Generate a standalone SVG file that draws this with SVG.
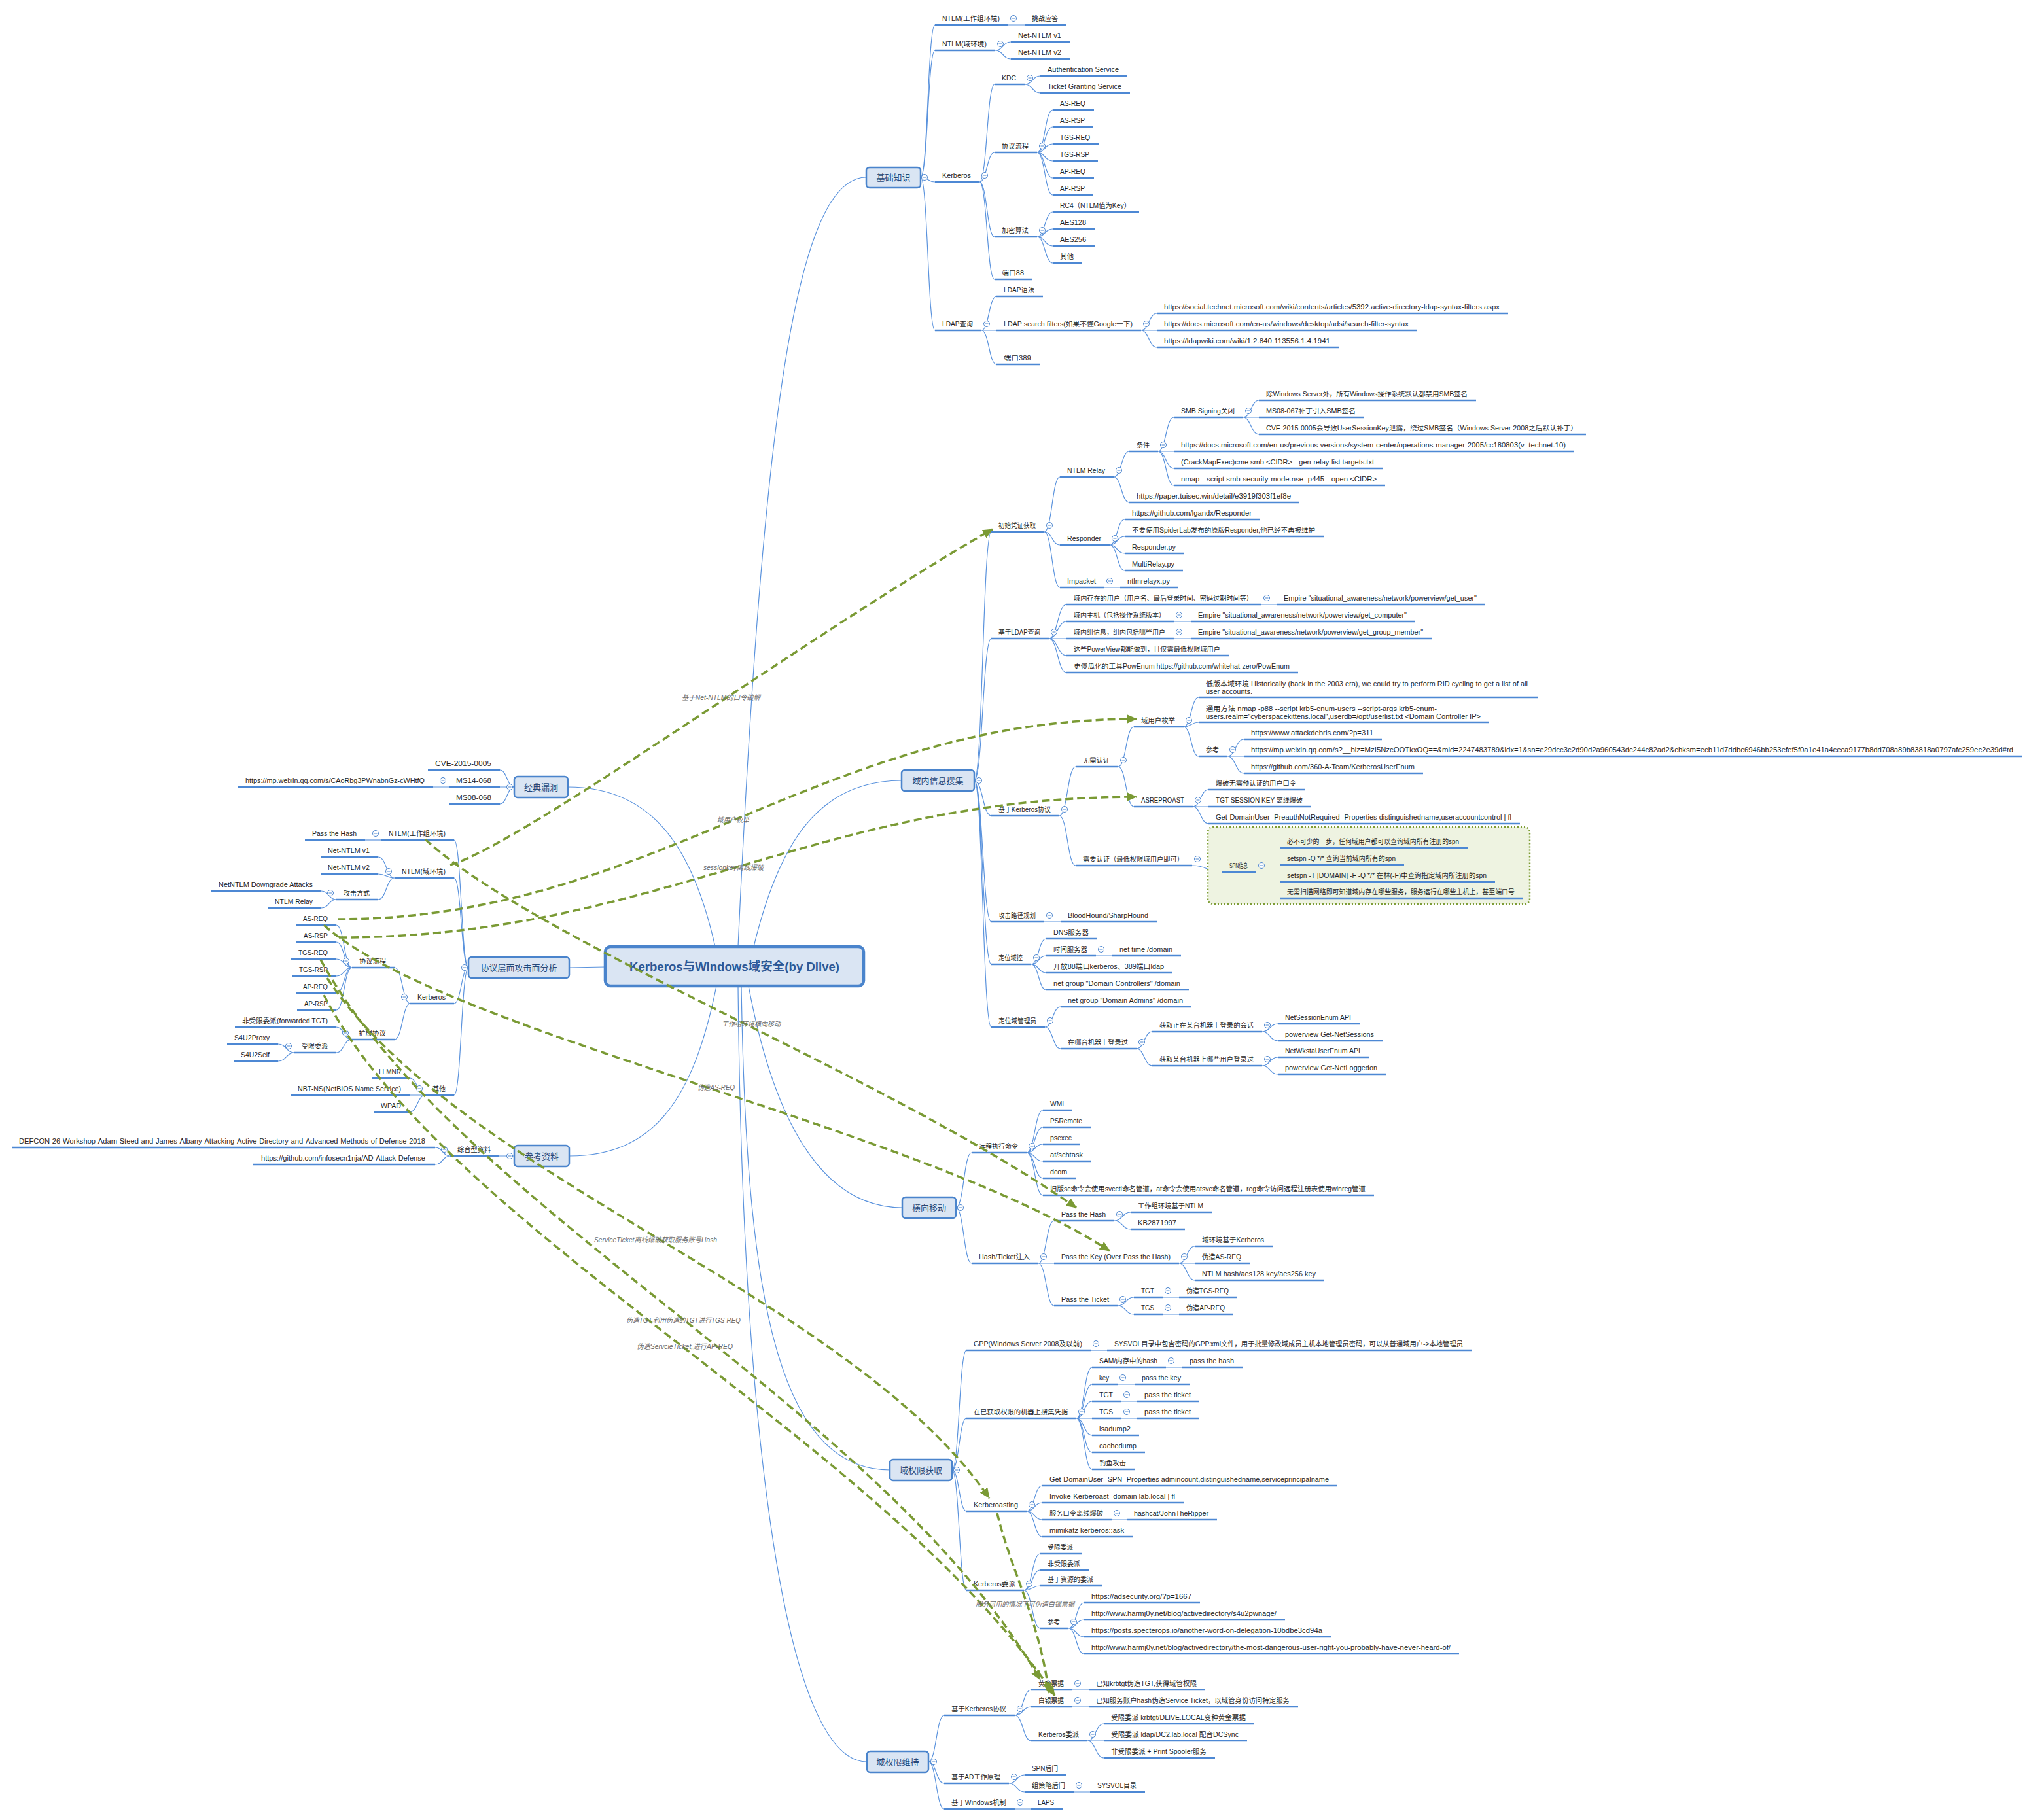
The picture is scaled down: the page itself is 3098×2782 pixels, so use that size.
<svg xmlns="http://www.w3.org/2000/svg" width="3098" height="2782" viewBox="0 0 3098 2782">
<style>
text{font-family:'Liberation Sans','Noto Sans CJK SC',sans-serif;font-size:10.5px;fill:#1f1f1f}
.u{stroke:#4d88d4;stroke-width:2.6;fill:none}
.c{stroke:#5b93dd;stroke-width:1.2;fill:none}
.box{fill:#dae5f3;stroke:#4a84cc;stroke-width:2.5}
.mt{font-size:13px;fill:#264878;text-anchor:middle}
.ti{font-size:19px;font-weight:bold;fill:#2d5896;text-anchor:middle}
.r{stroke:#7a9a34;stroke-width:3.5;fill:none;stroke-dasharray:12 6;marker-end:url(#ar)}
.rl{font-style:italic;fill:#6b6b6b;font-size:10.5px}
</style>
<defs>
<g id="m"><circle r="4.5" fill="#fff" stroke="#4d86cf" stroke-width="1"/><path d="M-2.5 0H2.5" stroke="#4d86cf" stroke-width="1"/></g>
<marker id="ar" markerUnits="userSpaceOnUse" markerWidth="16" markerHeight="14" refX="15" refY="7" orient="auto"><path d="M0 0L16 7L0 14z" fill="#7a9a34"/></marker>
</defs>
<rect width="3098" height="2782" fill="#fff"/>

<g id="connectors" class="c">
<path d="M1093 1447C1060 1300 1000 1203 868 1203"/>
<path d="M1128 1447C1165 650 1215 271 1324 271"/>
<path d="M1152 1447C1190 1290 1250 1193 1378 1193"/>
<path d="M925 1478L870 1479"/>
<path d="M1095 1507C1060 1680 1000 1767 870 1767"/>
<path d="M1144 1507C1180 1700 1250 1846 1379 1846"/>
<path d="M1133 1507C1140 1950 1180 2247 1360 2247"/>
<path d="M1128 1507C1135 2200 1200 2693 1325 2693"/>

<path d="M1407 271c11 0 11 -233 22 -233M1407 271c11 0 11 -194 22 -194M1407 271c11 0 11 7 22 7M1407 271c11 0 11 234 22 234"/>
<path d="M1541 38H1566M1521 77c12 0 12 -13 24 -13M1521 77c12 0 12 13 24 13"/>
<path d="M1497 278c11.5 0 11.5 -149 23 -149M1497 278c11.5 0 11.5 -45 23 -45M1497 278c11.5 0 11.5 84 23 84M1497 278c11.5 0 11.5 149 23 149"/>
<path d="M1566 129c12 0 12 -13 24 -13M1566 129c12 0 12 13 24 13"/>
<path d="M1585 233c12 0 12 -65 24 -65M1585 233c12 0 12 -39 24 -39M1585 233c12 0 12 -13 24 -13M1585 233c12 0 12 13 24 13M1585 233c12 0 12 39 24 39M1585 233c12 0 12 65 24 65"/>
<path d="M1585 362c12 0 12 -38 24 -38M1585 362c12 0 12 -12 24 -12M1585 362c12 0 12 14 24 14M1585 362c12 0 12 40 24 40"/>
<path d="M1500 505c11.5 0 11.5 -52 23 -52M1500 505H1523M1500 505c11.5 0 11.5 52 23 52"/>
<path d="M1744 505c12 0 12 -26 24 -26M1744 505H1768M1744 505c12 0 12 26 24 26"/>

<path d="M1489 1193c13 0 13 -380 26 -380M1489 1193c13 0 13 -217 26 -217M1489 1193c13 0 13 54 26 54M1489 1193c13 0 13 216 26 216M1489 1193c13 0 13 281 26 281M1489 1193c13 0 13 377 26 377"/>
<path d="M1596 813c12 0 12 -84 24 -84M1596 813c12 0 12 20 24 20M1596 813c12 0 12 85 24 85"/>
<path d="M1702 729c12 0 12 -39 24 -39M1702 729c12 0 12 39 24 39"/>
<path d="M1770 690c12 0 12 -52 24 -52M1770 690H1794M1770 690c12 0 12 26 24 26M1770 690c12 0 12 52 24 52"/>
<path d="M1900 638c12 0 12 -26 24 -26M1900 638H1924M1900 638c12 0 12 26 24 26"/>
<path d="M1696 833c11.5 0 11.5 -39 23 -39M1696 833c11.5 0 11.5 -13 23 -13M1696 833c11.5 0 11.5 13 23 13M1696 833c11.5 0 11.5 39 23 39M1688 898H1712"/>
<path d="M1603 976c13.5 0 13.5 -52 27 -52M1603 976c13.5 0 13.5 -26 27 -26M1603 976H1630M1603 976c13.5 0 13.5 26 27 26M1603 976c13.5 0 13.5 52 27 52"/>
<path d="M1928 924H1951M1794 950H1820M1794 976H1820"/>
<path d="M1619 1247c12.5 0 12.5 -75 25 -75M1619 1247c12.5 0 12.5 76 25 76"/>
<path d="M1709 1172c12 0 12 -61 24 -61M1709 1172c12 0 12 61 24 61"/>
<path d="M1809 1111c11.5 0 11.5 -45 23 -45M1809 1111c11.5 0 11.5 -7 23 -7M1809 1111c11.5 0 11.5 45 23 45"/>
<path d="M1876 1156c12.5 0 12.5 -26 25 -26M1876 1156H1901M1876 1156c12.5 0 12.5 26 25 26"/>
<path d="M1823 1233c12 0 12 -26 24 -26M1823 1233H1847M1823 1233c12 0 12 26 24 26"/>
<path d="M1822 1323c23 0 23 10 46 10"/>
<path d="M1920 1333c18 0 18 -37 36 -37M1920 1333c18 0 18 -11 36 -11M1920 1333c18 0 18 15 36 15M1920 1333c18 0 18 40 36 40"/>
<path d="M1596 1409H1621M1675 1461H1700"/>
<path d="M1576 1474c11.5 0 11.5 -39 23 -39M1576 1474c11.5 0 11.5 -13 23 -13M1576 1474c11.5 0 11.5 13 23 13M1576 1474c11.5 0 11.5 39 23 39"/>
<path d="M1597 1570c12 0 12 -31 24 -31M1597 1570c12 0 12 33 24 33"/>
<path d="M1737 1603c12 0 12 -26 24 -26M1737 1603c12 0 12 26 24 26"/>
<path d="M1929 1577c12 0 12 -12 24 -12M1929 1577c12 0 12 14 24 14M1929 1629c12 0 12 -13 24 -13M1929 1629c12 0 12 13 24 13"/>

<path d="M1461 1846c12 0 12 -84 24 -84M1461 1846c12 0 12 85 24 85"/>
<path d="M1569 1762c12.5 0 12.5 -65 25 -65M1569 1762c12.5 0 12.5 -39 25 -39M1569 1762c12.5 0 12.5 -13 25 -13M1569 1762c12.5 0 12.5 13 25 13M1569 1762c12.5 0 12.5 39 25 39M1569 1762c12.5 0 12.5 65 25 65"/>
<path d="M1587 1931c12 0 12 -65 24 -65M1587 1931H1611M1587 1931c12 0 12 65 24 65"/>
<path d="M1703 1866c12.5 0 12.5 -13 25 -13M1703 1866c12.5 0 12.5 13 25 13"/>
<path d="M1802 1931c12 0 12 -26 24 -26M1802 1931H1826M1802 1931c12 0 12 26 24 26"/>
<path d="M1708 1996c12.5 0 12.5 -13 25 -13M1708 1996c12.5 0 12.5 13 25 13M1777 1983H1802M1777 2009H1802"/>

<path d="M1455 2247c11 0 11 -183 22 -183M1455 2247c11 0 11 -79 22 -79M1455 2247c11 0 11 63 22 63M1455 2247c11 0 11 184 22 184"/>
<path d="M1667 2064H1692"/>
<path d="M1645 2168c12 0 12 -78 24 -78M1645 2168c12 0 12 -52 24 -52M1645 2168c12 0 12 -26 24 -26M1645 2168H1669M1645 2168c12 0 12 26 24 26M1645 2168c12 0 12 52 24 52M1645 2168c12 0 12 78 24 78"/>
<path d="M1782 2090H1807M1708 2116H1734M1714 2142H1738M1714 2168H1738"/>
<path d="M1569 2310c12 0 12 -39 24 -39M1569 2310c12 0 12 -13 24 -13M1569 2310c12 0 12 13 24 13M1569 2310c12 0 12 39 24 39M1699 2323H1722"/>
<path d="M1565 2431c12.5 0 12.5 -56 25 -56M1565 2431c12.5 0 12.5 -31 25 -31M1565 2431c12.5 0 12.5 -7 25 -7M1565 2431c12.5 0 12.5 58 25 58"/>
<path d="M1633 2489c12 0 12 -39 24 -39M1633 2489c12 0 12 -13 24 -13M1633 2489c12 0 12 13 24 13M1633 2489c12 0 12 39 24 39"/>

<path d="M1419 2693c12 0 12 -71 24 -71M1419 2693c12 0 12 33 24 33M1419 2693c12 0 12 72 24 72"/>
<path d="M1551 2622c12.5 0 12.5 -39 25 -39M1551 2622c12.5 0 12.5 -13 25 -13M1551 2622c12.5 0 12.5 39 25 39M1639 2583H1664M1639 2609H1664"/>
<path d="M1662 2661c12.5 0 12.5 -26 25 -26M1662 2661H1687M1662 2661c12.5 0 12.5 26 25 26"/>
<path d="M1542 2726c12 0 12 -13 24 -13M1542 2726c12 0 12 13 24 13M1641 2739H1666M1551 2765H1575"/>

<path d="M786 1203c-11 0 -11 -26 -22 -26M786 1203H764M786 1203c-11 0 -11 26 -22 26M686 1203H662"/>
<path d="M716 1479c-11 0 -11 -195 -22 -195M716 1479c-11 0 -11 -137 -22 -137M716 1479c-11 0 -11 55 -22 55M716 1479c-11 0 -11 195 -22 195"/>
<path d="M583 1284H558"/>
<path d="M603 1342c-12.5 0 -12.5 -32 -25 -32M603 1342c-12.5 0 -12.5 -6 -25 -6M603 1342c-12.5 0 -12.5 33 -25 33"/>
<path d="M514 1375c-11.5 0 -11.5 -13 -23 -13M514 1375c-11.5 0 -11.5 13 -23 13"/>
<path d="M627 1534c-12 0 -12 -55 -24 -55M627 1534c-12 0 -12 55 -24 55"/>
<path d="M538 1479c-12 0 -12 -65 -24 -65M538 1479c-12 0 -12 -39 -24 -39M538 1479c-12 0 -12 -13 -24 -13M538 1479c-12 0 -12 13 -24 13M538 1479c-12 0 -12 39 -24 39M538 1479c-12 0 -12 65 -24 65"/>
<path d="M537 1589c-11.5 0 -11.5 -19 -23 -19M537 1589c-11.5 0 -11.5 20 -23 20"/>
<path d="M450 1609c-12.5 0 -12.5 -13 -25 -13M450 1609c-12.5 0 -12.5 13 -25 13"/>
<path d="M650 1674c-12 0 -12 -26 -24 -26M650 1674H626M650 1674c-12 0 -12 26 -24 26"/>
<path d="M786 1767H763M688 1767c-11.5 0 -11.5 -13 -23 -13M688 1767c-11.5 0 -11.5 13 -23 13"/>
</g>

<rect x="1846" y="1264" width="492" height="118" rx="8" fill="#eef3e1" stroke="#7d9c34" stroke-width="2.5" stroke-dasharray="2 3"/>

<g id="center"><rect x="925" y="1447" width="395" height="60" rx="8" fill="#dae5f3" stroke="#4a84cc" stroke-width="4.5"/><text class="ti" x="1122.5" y="1484" textLength="321" lengthAdjust="spacingAndGlyphs">Kerberos与Windows域安全(by Dlive)</text></g>

<g id="t-jc"><rect class="box" x="1324" y="256" width="83" height="31" rx="5"/><text class="mt" x="1365.5" y="276">基础知识</text><use href="#m" x="1413" y="271"/></g>
<g id="t-yn"><rect class="box" x="1378" y="1177" width="111" height="32" rx="5"/><text class="mt" x="1433.5" y="1198">域内信息搜集</text><use href="#m" x="1496" y="1193"/></g>
<g id="t-hx"><rect class="box" x="1379" y="1830" width="82" height="32" rx="5"/><text class="mt" x="1420" y="1851">横向移动</text><use href="#m" x="1468" y="1846"/></g>
<g id="t-hq"><rect class="box" x="1360" y="2231" width="95" height="32" rx="5"/><text class="mt" x="1407.5" y="2252">域权限获取</text><use href="#m" x="1462" y="2247"/></g>
<g id="t-wc"><rect class="box" x="1325" y="2677" width="94" height="32" rx="5"/><text class="mt" x="1372" y="2698">域权限维持</text><use href="#m" x="1427" y="2693"/></g>
<g id="t-ld"><rect class="box" x="786" y="1187" width="82" height="32" rx="5"/><text class="mt" x="827" y="1208">经典漏洞</text><use href="#m" x="779" y="1203"/></g>
<g id="t-xy"><rect class="box" x="716" y="1463" width="154" height="32" rx="5"/><text class="mt" x="793" y="1484">协议层面攻击面分析</text><use href="#m" x="710" y="1479"/></g>
<g id="t-ck"><rect class="box" x="786" y="1751" width="84" height="32" rx="5"/><text class="mt" x="828" y="1772">参考资料</text><use href="#m" x="779" y="1767"/></g>

<g id="b1"><path class="u" d="M1429 38H1541"/><text x="1440" y="32" textLength="88" lengthAdjust="spacingAndGlyphs">NTLM(工作组环境)</text><use href="#m" x="1549" y="28"/></g>
<g id="b1a"><path class="u" d="M1566 38H1630"/><text x="1577" y="32" textLength="40" lengthAdjust="spacingAndGlyphs">挑战应答</text></g>
<g id="b2"><path class="u" d="M1429 77H1521"/><text x="1440" y="71" textLength="68" lengthAdjust="spacingAndGlyphs">NTLM(域环境)</text><use href="#m" x="1529" y="67"/></g>
<g id="b2a"><path class="u" d="M1545 64H1635"/><text x="1556" y="58" textLength="66" lengthAdjust="spacingAndGlyphs">Net-NTLM v1</text></g>
<g id="b2b"><path class="u" d="M1545 90H1635"/><text x="1556" y="84" textLength="66" lengthAdjust="spacingAndGlyphs">Net-NTLM v2</text></g>
<g id="b3"><path class="u" d="M1429 278H1497"/><text x="1440" y="272" textLength="44" lengthAdjust="spacingAndGlyphs">Kerberos</text><use href="#m" x="1505" y="268"/></g>
<g id="b3a"><path class="u" d="M1520 129H1566"/><text x="1531" y="123" textLength="22" lengthAdjust="spacingAndGlyphs">KDC</text><use href="#m" x="1574" y="119"/></g>
<g id="b3a1"><path class="u" d="M1590 116H1723"/><text x="1601" y="110" textLength="109" lengthAdjust="spacingAndGlyphs">Authentication Service</text></g>
<g id="b3a2"><path class="u" d="M1590 142H1727"/><text x="1601" y="136" textLength="113" lengthAdjust="spacingAndGlyphs">Ticket Granting Service</text></g>
<g id="b3b"><path class="u" d="M1520 233H1585"/><text x="1531" y="227" textLength="41" lengthAdjust="spacingAndGlyphs">协议流程</text><use href="#m" x="1593" y="223"/></g>
<g id="b3b1"><path class="u" d="M1609 168H1672"/><text x="1620" y="162" textLength="39" lengthAdjust="spacingAndGlyphs">AS-REQ</text></g>
<g id="b3b2"><path class="u" d="M1609 194H1671"/><text x="1620" y="188" textLength="38" lengthAdjust="spacingAndGlyphs">AS-RSP</text></g>
<g id="b3b3"><path class="u" d="M1609 220H1679"/><text x="1620" y="214" textLength="46" lengthAdjust="spacingAndGlyphs">TGS-REQ</text></g>
<g id="b3b4"><path class="u" d="M1609 246H1678"/><text x="1620" y="240" textLength="45" lengthAdjust="spacingAndGlyphs">TGS-RSP</text></g>
<g id="b3b5"><path class="u" d="M1609 272H1672"/><text x="1620" y="266" textLength="39" lengthAdjust="spacingAndGlyphs">AP-REQ</text></g>
<g id="b3b6"><path class="u" d="M1609 298H1671"/><text x="1620" y="292" textLength="38" lengthAdjust="spacingAndGlyphs">AP-RSP</text></g>
<g id="b3c"><path class="u" d="M1520 362H1585"/><text x="1531" y="356" textLength="41" lengthAdjust="spacingAndGlyphs">加密算法</text><use href="#m" x="1593" y="352"/></g>
<g id="b3c1"><path class="u" d="M1609 324H1741"/><text x="1620" y="318" textLength="108" lengthAdjust="spacingAndGlyphs">RC4（NTLM值为Key）</text></g>
<g id="b3c2"><path class="u" d="M1609 350H1673"/><text x="1620" y="344" textLength="40" lengthAdjust="spacingAndGlyphs">AES128</text></g>
<g id="b3c3"><path class="u" d="M1609 376H1673"/><text x="1620" y="370" textLength="40" lengthAdjust="spacingAndGlyphs">AES256</text></g>
<g id="b3c4"><path class="u" d="M1609 402H1654"/><text x="1620" y="396" textLength="21" lengthAdjust="spacingAndGlyphs">其他</text></g>
<g id="b3d"><path class="u" d="M1520 427H1578"/><text x="1531" y="421" textLength="34" lengthAdjust="spacingAndGlyphs">端口88</text></g>
<g id="b4"><path class="u" d="M1429 505H1500"/><text x="1440" y="499" textLength="47" lengthAdjust="spacingAndGlyphs">LDAP查询</text><use href="#m" x="1508" y="495"/></g>
<g id="b4a"><path class="u" d="M1523 453H1594"/><text x="1534" y="447" textLength="47" lengthAdjust="spacingAndGlyphs">LDAP语法</text></g>
<g id="b4b"><path class="u" d="M1523 505H1744"/><text x="1534" y="499" textLength="197" lengthAdjust="spacingAndGlyphs">LDAP search filters(如果不懂Google一下)</text><use href="#m" x="1752" y="495"/></g>
<g id="b4b1"><path class="u" d="M1768 479H2305"/><text x="1779" y="473" textLength="513" lengthAdjust="spacingAndGlyphs">https://social.technet.microsoft.com/wiki/contents/articles/5392.active-directory-ldap-syntax-filters.aspx</text></g>
<g id="b4b2"><path class="u" d="M1768 505H2166"/><text x="1779" y="499" textLength="374" lengthAdjust="spacingAndGlyphs">https://docs.microsoft.com/en-us/windows/desktop/adsi/search-filter-syntax</text></g>
<g id="b4b3"><path class="u" d="M1768 531H2046"/><text x="1779" y="525" textLength="254" lengthAdjust="spacingAndGlyphs">https://ldapwiki.com/wiki/1.2.840.113556.1.4.1941</text></g>
<g id="b4c"><path class="u" d="M1523 557H1589"/><text x="1534" y="551" textLength="42" lengthAdjust="spacingAndGlyphs">端口389</text></g>

<g id="i1"><path class="u" d="M1515 813H1596"/><text x="1526" y="807" textLength="57" lengthAdjust="spacingAndGlyphs">初始凭证获取</text><use href="#m" x="1604" y="803"/></g>
<g id="i1a"><path class="u" d="M1620 729H1702"/><text x="1631" y="723" textLength="58" lengthAdjust="spacingAndGlyphs">NTLM Relay</text><use href="#m" x="1710" y="719"/></g>
<g id="i1a1"><path class="u" d="M1726 690H1770"/><text x="1737" y="684" textLength="20" lengthAdjust="spacingAndGlyphs">条件</text><use href="#m" x="1778" y="680"/></g>
<g id="i1a1a"><path class="u" d="M1794 638H1900"/><text x="1805" y="632" textLength="82" lengthAdjust="spacingAndGlyphs">SMB Signing关闭</text><use href="#m" x="1908" y="628"/></g>
<g id="i1a1a1"><path class="u" d="M1924 612H2256"/><text x="1935" y="606" textLength="308" lengthAdjust="spacingAndGlyphs">除Windows Server外，所有Windows操作系统默认都禁用SMB签名</text></g>
<g id="i1a1a2"><path class="u" d="M1924 638H2085"/><text x="1935" y="632" textLength="137" lengthAdjust="spacingAndGlyphs">MS08-067补丁引入SMB签名</text></g>
<g id="i1a1a3"><path class="u" d="M1924 664H2424"/><text x="1935" y="658" textLength="476" lengthAdjust="spacingAndGlyphs">CVE-2015-0005会导致UserSessionKey泄露，绕过SMB签名（Windows Server 2008之后默认补丁）</text></g>
<g id="i1a1b"><path class="u" d="M1794 690H2406"/><text x="1805" y="684" textLength="588" lengthAdjust="spacingAndGlyphs">https://docs.microsoft.com/en-us/previous-versions/system-center/operations-manager-2005/cc180803(v=technet.10)</text></g>
<g id="i1a1c"><path class="u" d="M1794 716H2113"/><text x="1805" y="710" textLength="295" lengthAdjust="spacingAndGlyphs">(CrackMapExec)cme smb &lt;CIDR&gt; --gen-relay-list targets.txt</text></g>
<g id="i1a1d"><path class="u" d="M1794 742H2117"/><text x="1805" y="736" textLength="299" lengthAdjust="spacingAndGlyphs">nmap --script smb-security-mode.nse -p445 --open &lt;CIDR&gt;</text></g>
<g id="i1a2"><path class="u" d="M1726 768H1986"/><text x="1737" y="762" textLength="236" lengthAdjust="spacingAndGlyphs">https://paper.tuisec.win/detail/e3919f303f1ef8e</text></g>
<g id="i1b"><path class="u" d="M1620 833H1696"/><text x="1631" y="827" textLength="52" lengthAdjust="spacingAndGlyphs">Responder</text><use href="#m" x="1704" y="823"/></g>
<g id="i1b1"><path class="u" d="M1719 794H1926"/><text x="1730" y="788" textLength="183" lengthAdjust="spacingAndGlyphs">https://github.com/lgandx/Responder</text></g>
<g id="i1b2"><path class="u" d="M1719 820H2023"/><text x="1730" y="814" textLength="280" lengthAdjust="spacingAndGlyphs">不要使用SpiderLab发布的原版Responder,他已经不再被维护</text></g>
<g id="i1b3"><path class="u" d="M1719 846H1810"/><text x="1730" y="840" textLength="67" lengthAdjust="spacingAndGlyphs">Responder.py</text></g>
<g id="i1b4"><path class="u" d="M1719 872H1808"/><text x="1730" y="866" textLength="65" lengthAdjust="spacingAndGlyphs">MultiRelay.py</text></g>
<g id="i1c"><path class="u" d="M1620 898H1688"/><text x="1631" y="892" textLength="44" lengthAdjust="spacingAndGlyphs">Impacket</text><use href="#m" x="1696" y="888"/></g>
<g id="i1c1"><path class="u" d="M1712 898H1801"/><text x="1723" y="892" textLength="65" lengthAdjust="spacingAndGlyphs">ntlmrelayx.py</text></g>

<g id="i2"><path class="u" d="M1515 976H1603"/><text x="1526" y="970" textLength="64" lengthAdjust="spacingAndGlyphs">基于LDAP查询</text><use href="#m" x="1611" y="966"/></g>
<g id="i2a"><path class="u" d="M1630 924H1928"/><text x="1641" y="918" textLength="274" lengthAdjust="spacingAndGlyphs">域内存在的用户（用户名、最后登录时间、密码过期时间等）</text><use href="#m" x="1936" y="914"/></g>
<g id="i2a1"><path class="u" d="M1951 924H2270"/><text x="1962" y="918" textLength="295" lengthAdjust="spacingAndGlyphs">Empire "situational_awareness/network/powerview/get_user"</text></g>
<g id="i2b"><path class="u" d="M1630 950H1794"/><text x="1641" y="944" textLength="140" lengthAdjust="spacingAndGlyphs">域内主机（包括操作系统版本）</text><use href="#m" x="1802" y="940"/></g>
<g id="i2b1"><path class="u" d="M1820 950H2163"/><text x="1831" y="944" textLength="319" lengthAdjust="spacingAndGlyphs">Empire "situational_awareness/network/powerview/get_computer"</text></g>
<g id="i2c"><path class="u" d="M1630 976H1794"/><text x="1641" y="970" textLength="140" lengthAdjust="spacingAndGlyphs">域内组信息，组内包括哪些用户</text><use href="#m" x="1802" y="966"/></g>
<g id="i2c1"><path class="u" d="M1820 976H2188"/><text x="1831" y="970" textLength="344" lengthAdjust="spacingAndGlyphs">Empire "situational_awareness/network/powerview/get_group_member"</text></g>
<g id="i2d"><path class="u" d="M1630 1002H1878"/><text x="1641" y="996" textLength="224" lengthAdjust="spacingAndGlyphs">这些PowerView都能做到，且仅需最低权限域用户</text></g>
<g id="i2e"><path class="u" d="M1630 1028H1984"/><text x="1641" y="1022" textLength="330" lengthAdjust="spacingAndGlyphs">更傻瓜化的工具PowEnum https://github.com/whitehat-zero/PowEnum</text></g>

<g id="i3"><path class="u" d="M1515 1247H1619"/><text x="1526" y="1241" textLength="80" lengthAdjust="spacingAndGlyphs">基于Kerberos协议</text><use href="#m" x="1627" y="1237"/></g>
<g id="i3a"><path class="u" d="M1644 1172H1709"/><text x="1655" y="1166" textLength="41" lengthAdjust="spacingAndGlyphs">无需认证</text><use href="#m" x="1717" y="1162"/></g>
<g id="i3a1"><path class="u" d="M1733 1111H1809"/><text x="1744" y="1105" textLength="52" lengthAdjust="spacingAndGlyphs">域用户枚举</text><use href="#m" x="1817" y="1101"/></g>
<g id="i3a1a"><path class="u" d="M1832 1066H2351"/><text x="1843" y="1049" textLength="492" lengthAdjust="spacingAndGlyphs">低版本域环境 Historically (back in the 2003 era), we could try to perform RID cycling to get a list of all</text><text x="1843" y="1061" textLength="71" lengthAdjust="spacingAndGlyphs">user accounts.</text></g>
<g id="i3a1b"><path class="u" d="M1832 1104H2276"/><text x="1843" y="1087" textLength="353" lengthAdjust="spacingAndGlyphs">通用方法 nmap -p88 --script krb5-enum-users --script-args krb5-enum-</text><text x="1843" y="1099" textLength="420" lengthAdjust="spacingAndGlyphs">users.realm="cyberspacekittens.local",userdb=/opt/userlist.txt &lt;Domain Controller IP&gt;</text></g>
<g id="i3a1c"><path class="u" d="M1832 1156H1876"/><text x="1843" y="1150" textLength="20" lengthAdjust="spacingAndGlyphs">参考</text><use href="#m" x="1884" y="1146"/></g>
<g id="i3a1c1"><path class="u" d="M1901 1130H2112"/><text x="1912" y="1124" textLength="187" lengthAdjust="spacingAndGlyphs">https://www.attackdebris.com/?p=311</text></g>
<g id="i3a1c2"><path class="u" d="M1901 1156H3090"/><text x="1912" y="1150" textLength="1165" lengthAdjust="spacingAndGlyphs">https://mp.weixin.qq.com/s?__biz=MzI5NzcOOTkxOQ==&amp;mid=2247483789&amp;idx=1&amp;sn=e29dcc3c2d90d2a960543dc244c82ad2&amp;chksm=ecb11d7ddbc6946bb253efef5f0a1e41a4ceca9177b8dd708a89b83818a0797afc259ec2e39d#rd</text></g>
<g id="i3a1c3"><path class="u" d="M1901 1182H2175"/><text x="1912" y="1176" textLength="250" lengthAdjust="spacingAndGlyphs">https://github.com/360-A-Team/KerberosUserEnum</text></g>
<g id="i3a2"><path class="u" d="M1733 1233H1823"/><text x="1744" y="1227" textLength="66" lengthAdjust="spacingAndGlyphs">ASREPROAST</text><use href="#m" x="1831" y="1223"/></g>
<g id="i3a2a"><path class="u" d="M1847 1207H1994"/><text x="1858" y="1201" textLength="123" lengthAdjust="spacingAndGlyphs">爆破无需预认证的用户口令</text></g>
<g id="i3a2b"><path class="u" d="M1847 1233H2004"/><text x="1858" y="1227" textLength="133" lengthAdjust="spacingAndGlyphs">TGT SESSION KEY 离线爆破</text></g>
<g id="i3a2c"><path class="u" d="M1847 1259H2323"/><text x="1858" y="1253" textLength="452" lengthAdjust="spacingAndGlyphs">Get-DomainUser -PreauthNotRequired -Properties distinguishedname,useraccountcontrol | fl</text></g>
<g id="i3b"><path class="u" d="M1644 1323H1822"/><text x="1655" y="1317" textLength="154" lengthAdjust="spacingAndGlyphs">需要认证（最低权限域用户即可）</text><use href="#m" x="1830" y="1313"/></g>
<g id="i3b1"><path class="u" d="M1868 1333H1920"/><text x="1879" y="1327" textLength="28" lengthAdjust="spacingAndGlyphs">SPN信息</text><use href="#m" x="1928" y="1323"/></g>
<g id="i3b1a"><path class="u" d="M1956 1296H2243"/><text x="1967" y="1290" textLength="263" lengthAdjust="spacingAndGlyphs">必不可少的一步，任何域用户都可以查询域内所有注册的spn</text></g>
<g id="i3b1b"><path class="u" d="M1956 1322H2146"/><text x="1967" y="1316" textLength="166" lengthAdjust="spacingAndGlyphs">setspn -Q */* 查询当前域内所有的spn</text></g>
<g id="i3b1c"><path class="u" d="M1956 1348H2285"/><text x="1967" y="1342" textLength="305" lengthAdjust="spacingAndGlyphs">setspn -T [DOMAIN] -F -Q */* 在林(-F)中查询指定域内所注册的spn</text></g>
<g id="i3b1d"><path class="u" d="M1956 1373H2328"/><text x="1967" y="1367" textLength="348" lengthAdjust="spacingAndGlyphs">无需扫描网络即可知道域内存在哪些服务，服务运行在哪些主机上，甚至端口号</text></g>

<g id="i4"><path class="u" d="M1515 1409H1596"/><text x="1526" y="1403" textLength="57" lengthAdjust="spacingAndGlyphs">攻击路径规划</text><use href="#m" x="1604" y="1399"/></g>
<g id="i4a"><path class="u" d="M1621 1409H1768"/><text x="1632" y="1403" textLength="123" lengthAdjust="spacingAndGlyphs">BloodHound/SharpHound</text></g>
<g id="i5"><path class="u" d="M1515 1474H1576"/><text x="1526" y="1468" textLength="37" lengthAdjust="spacingAndGlyphs">定位域控</text><use href="#m" x="1584" y="1464"/></g>
<g id="i5a"><path class="u" d="M1599 1435H1677"/><text x="1610" y="1429" textLength="54" lengthAdjust="spacingAndGlyphs">DNS服务器</text></g>
<g id="i5b"><path class="u" d="M1599 1461H1675"/><text x="1610" y="1455" textLength="52" lengthAdjust="spacingAndGlyphs">时间服务器</text><use href="#m" x="1683" y="1451"/></g>
<g id="i5b1"><path class="u" d="M1700 1461H1805"/><text x="1711" y="1455" textLength="81" lengthAdjust="spacingAndGlyphs">net time /domain</text></g>
<g id="i5c"><path class="u" d="M1599 1487H1792"/><text x="1610" y="1481" textLength="169" lengthAdjust="spacingAndGlyphs">开放88端口kerberos、389端口ldap</text></g>
<g id="i5d"><path class="u" d="M1599 1513H1817"/><text x="1610" y="1507" textLength="194" lengthAdjust="spacingAndGlyphs">net group "Domain Controllers" /domain</text></g>
<g id="i6"><path class="u" d="M1515 1570H1597"/><text x="1526" y="1564" textLength="58" lengthAdjust="spacingAndGlyphs">定位域管理员</text><use href="#m" x="1605" y="1560"/></g>
<g id="i6a"><path class="u" d="M1621 1539H1821"/><text x="1632" y="1533" textLength="176" lengthAdjust="spacingAndGlyphs">net group "Domain Admins" /domain</text></g>
<g id="i6b"><path class="u" d="M1621 1603H1737"/><text x="1632" y="1597" textLength="92" lengthAdjust="spacingAndGlyphs">在哪台机器上登录过</text><use href="#m" x="1745" y="1593"/></g>
<g id="i6b1"><path class="u" d="M1761 1577H1929"/><text x="1772" y="1571" textLength="144" lengthAdjust="spacingAndGlyphs">获取正在某台机器上登录的会话</text><use href="#m" x="1937" y="1567"/></g>
<g id="i6b1a"><path class="u" d="M1953 1565H2078"/><text x="1964" y="1559" textLength="101" lengthAdjust="spacingAndGlyphs">NetSessionEnum API</text></g>
<g id="i6b1b"><path class="u" d="M1953 1591H2113"/><text x="1964" y="1585" textLength="136" lengthAdjust="spacingAndGlyphs">powerview Get-NetSessions</text></g>
<g id="i6b2"><path class="u" d="M1761 1629H1929"/><text x="1772" y="1623" textLength="144" lengthAdjust="spacingAndGlyphs">获取某台机器上哪些用户登录过</text><use href="#m" x="1937" y="1619"/></g>
<g id="i6b2a"><path class="u" d="M1953 1616H2092"/><text x="1964" y="1610" textLength="115" lengthAdjust="spacingAndGlyphs">NetWkstaUserEnum API</text></g>
<g id="i6b2b"><path class="u" d="M1953 1642H2118"/><text x="1964" y="1636" textLength="141" lengthAdjust="spacingAndGlyphs">powerview Get-NetLoggedon</text></g>

<g id="l1"><path class="u" d="M1485 1762H1569"/><text x="1496" y="1756" textLength="60" lengthAdjust="spacingAndGlyphs">远程执行命令</text><use href="#m" x="1577" y="1752"/></g>
<g id="l1a"><path class="u" d="M1594 1697H1639"/><text x="1605" y="1691" textLength="21" lengthAdjust="spacingAndGlyphs">WMI</text></g>
<g id="l1b"><path class="u" d="M1594 1723H1667"/><text x="1605" y="1717" textLength="49" lengthAdjust="spacingAndGlyphs">PSRemote</text></g>
<g id="l1c"><path class="u" d="M1594 1749H1651"/><text x="1605" y="1743" textLength="33" lengthAdjust="spacingAndGlyphs">psexec</text></g>
<g id="l1d"><path class="u" d="M1594 1775H1668"/><text x="1605" y="1769" textLength="50" lengthAdjust="spacingAndGlyphs">at/schtask</text></g>
<g id="l1e"><path class="u" d="M1594 1801H1644"/><text x="1605" y="1795" textLength="26" lengthAdjust="spacingAndGlyphs">dcom</text></g>
<g id="l1f"><path class="u" d="M1594 1827H2100"/><text x="1605" y="1821" textLength="482" lengthAdjust="spacingAndGlyphs">旧版sc命令会使用svcctl命名管道，at命令会使用atsvc命名管道，reg命令访问远程注册表使用winreg管道</text></g>
<g id="l2"><path class="u" d="M1485 1931H1587"/><text x="1496" y="1925" textLength="78" lengthAdjust="spacingAndGlyphs">Hash/Ticket注入</text><use href="#m" x="1595" y="1921"/></g>
<g id="l2a"><path class="u" d="M1611 1866H1703"/><text x="1622" y="1860" textLength="68" lengthAdjust="spacingAndGlyphs">Pass the Hash</text><use href="#m" x="1711" y="1856"/></g>
<g id="l2a1"><path class="u" d="M1728 1853H1852"/><text x="1739" y="1847" textLength="100" lengthAdjust="spacingAndGlyphs">工作组环境基于NTLM</text></g>
<g id="l2a2"><path class="u" d="M1728 1879H1811"/><text x="1739" y="1873" textLength="59" lengthAdjust="spacingAndGlyphs">KB2871997</text></g>
<g id="l2b"><path class="u" d="M1611 1931H1802"/><text x="1622" y="1925" textLength="167" lengthAdjust="spacingAndGlyphs">Pass the Key (Over Pass the Hash)</text><use href="#m" x="1810" y="1921"/></g>
<g id="l2b1"><path class="u" d="M1826 1905H1945"/><text x="1837" y="1899" textLength="95" lengthAdjust="spacingAndGlyphs">域环境基于Kerberos</text></g>
<g id="l2b2"><path class="u" d="M1826 1931H1910"/><text x="1837" y="1925" textLength="60" lengthAdjust="spacingAndGlyphs">伪造AS-REQ</text></g>
<g id="l2b3"><path class="u" d="M1826 1957H2024"/><text x="1837" y="1951" textLength="174" lengthAdjust="spacingAndGlyphs">NTLM hash/aes128 key/aes256 key</text></g>
<g id="l2c"><path class="u" d="M1611 1996H1708"/><text x="1622" y="1990" textLength="73" lengthAdjust="spacingAndGlyphs">Pass the Ticket</text><use href="#m" x="1716" y="1986"/></g>
<g id="l2c1"><path class="u" d="M1733 1983H1777"/><text x="1744" y="1977" textLength="20" lengthAdjust="spacingAndGlyphs">TGT</text><use href="#m" x="1785" y="1973"/></g>
<g id="l2c1a"><path class="u" d="M1802 1983H1891"/><text x="1813" y="1977" textLength="65" lengthAdjust="spacingAndGlyphs">伪造TGS-REQ</text></g>
<g id="l2c2"><path class="u" d="M1733 2009H1777"/><text x="1744" y="2003" textLength="20" lengthAdjust="spacingAndGlyphs">TGS</text><use href="#m" x="1785" y="1999"/></g>
<g id="l2c2a"><path class="u" d="M1802 2009H1885"/><text x="1813" y="2003" textLength="59" lengthAdjust="spacingAndGlyphs">伪造AP-REQ</text></g>

<g id="g1"><path class="u" d="M1477 2064H1667"/><text x="1488" y="2058" textLength="166" lengthAdjust="spacingAndGlyphs">GPP(Windows Server 2008及以前)</text><use href="#m" x="1675" y="2054"/></g>
<g id="g1a"><path class="u" d="M1692 2064H2249"/><text x="1703" y="2058" textLength="533" lengthAdjust="spacingAndGlyphs">SYSVOL目录中包含密码的GPP.xml文件，用于批量修改域成员主机本地管理员密码，可以从普通域用户-&gt;本地管理员</text></g>
<g id="g2"><path class="u" d="M1477 2168H1645"/><text x="1488" y="2162" textLength="144" lengthAdjust="spacingAndGlyphs">在已获取权限的机器上搜集凭据</text><use href="#m" x="1653" y="2158"/></g>
<g id="g2a"><path class="u" d="M1669 2090H1782"/><text x="1680" y="2084" textLength="89" lengthAdjust="spacingAndGlyphs">SAM/内存中的hash</text><use href="#m" x="1790" y="2080"/></g>
<g id="g2a1"><path class="u" d="M1807 2090H1899"/><text x="1818" y="2084" textLength="68" lengthAdjust="spacingAndGlyphs">pass the hash</text></g>
<g id="g2b"><path class="u" d="M1669 2116H1708"/><text x="1680" y="2110" textLength="15" lengthAdjust="spacingAndGlyphs">key</text><use href="#m" x="1716" y="2106"/></g>
<g id="g2b1"><path class="u" d="M1734 2116H1818"/><text x="1745" y="2110" textLength="60" lengthAdjust="spacingAndGlyphs">pass the key</text></g>
<g id="g2c"><path class="u" d="M1669 2142H1714"/><text x="1680" y="2136" textLength="21" lengthAdjust="spacingAndGlyphs">TGT</text><use href="#m" x="1722" y="2132"/></g>
<g id="g2c1"><path class="u" d="M1738 2142H1833"/><text x="1749" y="2136" textLength="71" lengthAdjust="spacingAndGlyphs">pass the ticket</text></g>
<g id="g2d"><path class="u" d="M1669 2168H1714"/><text x="1680" y="2162" textLength="21" lengthAdjust="spacingAndGlyphs">TGS</text><use href="#m" x="1722" y="2158"/></g>
<g id="g2d1"><path class="u" d="M1738 2168H1833"/><text x="1749" y="2162" textLength="71" lengthAdjust="spacingAndGlyphs">pass the ticket</text></g>
<g id="g2e"><path class="u" d="M1669 2194H1741"/><text x="1680" y="2188" textLength="48" lengthAdjust="spacingAndGlyphs">lsadump2</text></g>
<g id="g2f"><path class="u" d="M1669 2220H1750"/><text x="1680" y="2214" textLength="57" lengthAdjust="spacingAndGlyphs">cachedump</text></g>
<g id="g2g"><path class="u" d="M1669 2246H1734"/><text x="1680" y="2240" textLength="41" lengthAdjust="spacingAndGlyphs">钓鱼攻击</text></g>
<g id="g3"><path class="u" d="M1477 2310H1569"/><text x="1488" y="2304" textLength="68" lengthAdjust="spacingAndGlyphs">Kerberoasting</text><use href="#m" x="1577" y="2300"/></g>
<g id="g3a"><path class="u" d="M1593 2271H2044"/><text x="1604" y="2265" textLength="427" lengthAdjust="spacingAndGlyphs">Get-DomainUser -SPN -Properties admincount,distinguishedname,serviceprincipalname</text></g>
<g id="g3b"><path class="u" d="M1593 2297H1809"/><text x="1604" y="2291" textLength="192" lengthAdjust="spacingAndGlyphs">Invoke-Kerberoast -domain lab.local | fl</text></g>
<g id="g3c"><path class="u" d="M1593 2323H1699"/><text x="1604" y="2317" textLength="82" lengthAdjust="spacingAndGlyphs">服务口令离线爆破</text><use href="#m" x="1707" y="2313"/></g>
<g id="g3c1"><path class="u" d="M1722 2323H1860"/><text x="1733" y="2317" textLength="114" lengthAdjust="spacingAndGlyphs">hashcat/JohnTheRipper</text></g>
<g id="g3d"><path class="u" d="M1593 2349H1731"/><text x="1604" y="2343" textLength="114" lengthAdjust="spacingAndGlyphs">mimikatz kerberos::ask</text></g>
<g id="g4"><path class="u" d="M1477 2431H1565"/><text x="1488" y="2425" textLength="64" lengthAdjust="spacingAndGlyphs">Kerberos委派</text><use href="#m" x="1573" y="2421"/></g>
<g id="g4a"><path class="u" d="M1590 2375H1653"/><text x="1601" y="2369" textLength="39" lengthAdjust="spacingAndGlyphs">受限委派</text></g>
<g id="g4b"><path class="u" d="M1590 2400H1664"/><text x="1601" y="2394" textLength="50" lengthAdjust="spacingAndGlyphs">非受限委派</text></g>
<g id="g4c"><path class="u" d="M1590 2424H1684"/><text x="1601" y="2418" textLength="70" lengthAdjust="spacingAndGlyphs">基于资源的委派</text></g>
<g id="g4d"><path class="u" d="M1590 2489H1633"/><text x="1601" y="2483" textLength="19" lengthAdjust="spacingAndGlyphs">参考</text><use href="#m" x="1641" y="2479"/></g>
<g id="g4d1"><path class="u" d="M1657 2450H1834"/><text x="1668" y="2444" textLength="153" lengthAdjust="spacingAndGlyphs">https://adsecurity.org/?p=1667</text></g>
<g id="g4d2"><path class="u" d="M1657 2476H1964"/><text x="1668" y="2470" textLength="283" lengthAdjust="spacingAndGlyphs">http://www.harmj0y.net/blog/activedirectory/s4u2pwnage/</text></g>
<g id="g4d3"><path class="u" d="M1657 2502H2034"/><text x="1668" y="2496" textLength="353" lengthAdjust="spacingAndGlyphs">https://posts.specterops.io/another-word-on-delegation-10bdbe3cd94a</text></g>
<g id="g4d4"><path class="u" d="M1657 2528H2230"/><text x="1668" y="2522" textLength="549" lengthAdjust="spacingAndGlyphs">http://www.harmj0y.net/blog/activedirectory/the-most-dangerous-user-right-you-probably-have-never-heard-of/</text></g>

<g id="p1"><path class="u" d="M1443 2622H1551"/><text x="1454" y="2616" textLength="84" lengthAdjust="spacingAndGlyphs">基于Kerberos协议</text><use href="#m" x="1559" y="2612"/></g>
<g id="p1a"><path class="u" d="M1576 2583H1639"/><text x="1587" y="2577" textLength="39" lengthAdjust="spacingAndGlyphs">黄金票据</text><use href="#m" x="1647" y="2573"/></g>
<g id="p1a1"><path class="u" d="M1664 2583H1842"/><text x="1675" y="2577" textLength="154" lengthAdjust="spacingAndGlyphs">已知krbtgt伪造TGT,获得域管权限</text></g>
<g id="p1b"><path class="u" d="M1576 2609H1639"/><text x="1587" y="2603" textLength="39" lengthAdjust="spacingAndGlyphs">白银票据</text><use href="#m" x="1647" y="2599"/></g>
<g id="p1b1"><path class="u" d="M1664 2609H1984"/><text x="1675" y="2603" textLength="296" lengthAdjust="spacingAndGlyphs">已知服务账户hash伪造Service Ticket，以域管身份访问特定服务</text></g>
<g id="p1c"><path class="u" d="M1576 2661H1662"/><text x="1587" y="2655" textLength="62" lengthAdjust="spacingAndGlyphs">Kerberos委派</text><use href="#m" x="1670" y="2651"/></g>
<g id="p1c1"><path class="u" d="M1687 2635H1917"/><text x="1698" y="2629" textLength="206" lengthAdjust="spacingAndGlyphs">受限委派 krbtgt/DLIVE.LOCAL变种黄金票据</text></g>
<g id="p1c2"><path class="u" d="M1687 2661H1906"/><text x="1698" y="2655" textLength="195" lengthAdjust="spacingAndGlyphs">受限委派 ldap/DC2.lab.local 配合DCSync</text></g>
<g id="p1c3"><path class="u" d="M1687 2687H1857"/><text x="1698" y="2681" textLength="146" lengthAdjust="spacingAndGlyphs">非受限委派 + Print Spooler服务</text></g>
<g id="p2"><path class="u" d="M1443 2726H1542"/><text x="1454" y="2720" textLength="75" lengthAdjust="spacingAndGlyphs">基于AD工作原理</text><use href="#m" x="1550" y="2716"/></g>
<g id="p2a"><path class="u" d="M1566 2713H1630"/><text x="1577" y="2707" textLength="40" lengthAdjust="spacingAndGlyphs">SPN后门</text></g>
<g id="p2b"><path class="u" d="M1566 2739H1641"/><text x="1577" y="2733" textLength="51" lengthAdjust="spacingAndGlyphs">组策略后门</text><use href="#m" x="1649" y="2729"/></g>
<g id="p2b1"><path class="u" d="M1666 2739H1750"/><text x="1677" y="2733" textLength="60" lengthAdjust="spacingAndGlyphs">SYSVOL目录</text></g>
<g id="p3"><path class="u" d="M1443 2765H1551"/><text x="1454" y="2759" textLength="84" lengthAdjust="spacingAndGlyphs">基于Windows机制</text><use href="#m" x="1559" y="2755"/></g>
<g id="p3a"><path class="u" d="M1575 2765H1624"/><text x="1586" y="2759" textLength="25" lengthAdjust="spacingAndGlyphs">LAPS</text></g>

<g id="v1"><path class="u" d="M654 1177H764"/><text x="665" y="1171" textLength="86" lengthAdjust="spacingAndGlyphs">CVE-2015-0005</text></g>
<g id="v2"><path class="u" d="M686 1203H764"/><text x="697" y="1197" textLength="54" lengthAdjust="spacingAndGlyphs">MS14-068</text><use href="#m" x="677" y="1193"/></g>
<g id="v2a"><path class="u" d="M364 1203H662"/><text x="375" y="1197" textLength="274" lengthAdjust="spacingAndGlyphs">https://mp.weixin.qq.com/s/CAoRbg3PWnabnGz-cWHtfQ</text></g>
<g id="v3"><path class="u" d="M686 1229H764"/><text x="697" y="1223" textLength="54" lengthAdjust="spacingAndGlyphs">MS08-068</text></g>

<g id="x1"><path class="u" d="M583 1284H694"/><text x="594" y="1278" textLength="87" lengthAdjust="spacingAndGlyphs">NTLM(工作组环境)</text><use href="#m" x="574" y="1274"/></g>
<g id="x1a"><path class="u" d="M466 1284H558"/><text x="477" y="1278" textLength="68" lengthAdjust="spacingAndGlyphs">Pass the Hash</text></g>
<g id="x2"><path class="u" d="M603 1342H694"/><text x="614" y="1336" textLength="67" lengthAdjust="spacingAndGlyphs">NTLM(域环境)</text><use href="#m" x="594" y="1332"/></g>
<g id="x2a"><path class="u" d="M490 1310H578"/><text x="501" y="1304" textLength="64" lengthAdjust="spacingAndGlyphs">Net-NTLM v1</text></g>
<g id="x2b"><path class="u" d="M490 1336H578"/><text x="501" y="1330" textLength="64" lengthAdjust="spacingAndGlyphs">Net-NTLM v2</text></g>
<g id="x2c"><path class="u" d="M514 1375H578"/><text x="525" y="1369" textLength="40" lengthAdjust="spacingAndGlyphs">攻击方式</text><use href="#m" x="505" y="1365"/></g>
<g id="x2c1"><path class="u" d="M323 1362H491"/><text x="334" y="1356" textLength="144" lengthAdjust="spacingAndGlyphs">NetNTLM Downgrade Attacks</text></g>
<g id="x2c2"><path class="u" d="M409 1388H491"/><text x="420" y="1382" textLength="58" lengthAdjust="spacingAndGlyphs">NTLM Relay</text></g>
<g id="x3"><path class="u" d="M627 1534H694"/><text x="638" y="1528" textLength="43" lengthAdjust="spacingAndGlyphs">Kerberos</text><use href="#m" x="618" y="1524"/></g>
<g id="x3a"><path class="u" d="M538 1479H603"/><text x="549" y="1473" textLength="41" lengthAdjust="spacingAndGlyphs">协议流程</text><use href="#m" x="529" y="1469"/></g>
<g id="x3a1"><path class="u" d="M452 1414H514"/><text x="463" y="1408" textLength="38" lengthAdjust="spacingAndGlyphs">AS-REQ</text></g>
<g id="x3a2"><path class="u" d="M453 1440H514"/><text x="464" y="1434" textLength="37" lengthAdjust="spacingAndGlyphs">AS-RSP</text></g>
<g id="x3a3"><path class="u" d="M445 1466H514"/><text x="456" y="1460" textLength="45" lengthAdjust="spacingAndGlyphs">TGS-REQ</text></g>
<g id="x3a4"><path class="u" d="M446 1492H514"/><text x="457" y="1486" textLength="44" lengthAdjust="spacingAndGlyphs">TGS-RSP</text></g>
<g id="x3a5"><path class="u" d="M452 1518H514"/><text x="463" y="1512" textLength="38" lengthAdjust="spacingAndGlyphs">AP-REQ</text></g>
<g id="x3a6"><path class="u" d="M454 1544H514"/><text x="465" y="1538" textLength="36" lengthAdjust="spacingAndGlyphs">AP-RSP</text></g>
<g id="x3b"><path class="u" d="M537 1589H603"/><text x="548" y="1583" textLength="42" lengthAdjust="spacingAndGlyphs">扩展协议</text><use href="#m" x="528" y="1579"/></g>
<g id="x3b1"><path class="u" d="M359 1570H514"/><text x="370" y="1564" textLength="131" lengthAdjust="spacingAndGlyphs">非受限委派(forwarded TGT)</text></g>
<g id="x3b2"><path class="u" d="M450 1609H514"/><text x="461" y="1603" textLength="40" lengthAdjust="spacingAndGlyphs">受限委派</text><use href="#m" x="441" y="1599"/></g>
<g id="x3b2a"><path class="u" d="M347 1596H425"/><text x="358" y="1590" textLength="54" lengthAdjust="spacingAndGlyphs">S4U2Proxy</text></g>
<g id="x3b2b"><path class="u" d="M357 1622H425"/><text x="368" y="1616" textLength="44" lengthAdjust="spacingAndGlyphs">S4U2Self</text></g>
<g id="x4"><path class="u" d="M650 1674H694"/><text x="661" y="1668" textLength="20" lengthAdjust="spacingAndGlyphs">其他</text><use href="#m" x="641" y="1664"/></g>
<g id="x4a"><path class="u" d="M568 1648H626"/><text x="579" y="1642" textLength="34" lengthAdjust="spacingAndGlyphs">LLMNR</text></g>
<g id="x4b"><path class="u" d="M444 1674H626"/><text x="455" y="1668" textLength="158" lengthAdjust="spacingAndGlyphs">NBT-NS(NetBIOS Name Service)</text></g>
<g id="x4c"><path class="u" d="M571 1700H626"/><text x="582" y="1694" textLength="31" lengthAdjust="spacingAndGlyphs">WPAD</text></g>

<g id="c1"><path class="u" d="M688 1767H763"/><text x="699" y="1761" textLength="51" lengthAdjust="spacingAndGlyphs">综合型资料</text><use href="#m" x="679" y="1757"/></g>
<g id="c1a"><path class="u" d="M18 1754H665"/><text x="29" y="1748" textLength="621" lengthAdjust="spacingAndGlyphs">DEFCON-26-Workshop-Adam-Steed-and-James-Albany-Attacking-Active-Directory-and-Advanced-Methods-of-Defense-2018</text></g>
<g id="c1b"><path class="u" d="M387 1780H665"/><text x="399" y="1774" textLength="251" lengthAdjust="spacingAndGlyphs">https://github.com/infosecn1nja/AD-Attack-Defense</text></g>

<g id="relations">
<path class="r" d="M688 1322C800 1290 1250 960 1517 809"/>
<path class="r" d="M516 1405C1000 1405 1250 1099 1737 1099"/>
<path class="r" d="M518 1433C1000 1433 1250 1218 1737 1218"/>
<path class="r" d="M650 1283C820 1440 1350 1640 1645 1846"/>
<path class="r" d="M495 1414C680 1580 1400 1720 1696 1912"/>
<path class="r" d="M500 1495C700 1800 1300 1980 1512 2290"/>
<path class="r" d="M490 1467C700 1850 1350 2150 1590 2568"/>
<path class="r" d="M495 1521C680 1880 1350 2200 1612 2592"/>
<path class="r" d="M1524 2313C1545 2400 1590 2480 1603 2588"/>
<text class="rl" x="1042" y="1070" textLength="120" lengthAdjust="spacingAndGlyphs">基于Net-NTLM的口令破解</text>
<text class="rl" x="1096" y="1257" textLength="49" lengthAdjust="spacingAndGlyphs">域用户枚举</text>
<text class="rl" x="1075" y="1330" textLength="92" lengthAdjust="spacingAndGlyphs">sessionkey离线爆破</text>
<text class="rl" x="1103" y="1569" textLength="90" lengthAdjust="spacingAndGlyphs">工作组环境横向移动</text>
<text class="rl" x="1066" y="1666" textLength="57" lengthAdjust="spacingAndGlyphs">伪造AS-REQ</text>
<text class="rl" x="908" y="1899" textLength="188" lengthAdjust="spacingAndGlyphs">ServiceTicket离线爆破获取服务账号Hash</text>
<text class="rl" x="957" y="2022" textLength="175" lengthAdjust="spacingAndGlyphs">伪造TGT,利用伪造的TGT进行TGS-REQ</text>
<text class="rl" x="973" y="2062" textLength="147" lengthAdjust="spacingAndGlyphs">伪造ServcieTicket,进行AP-REQ</text>
<text class="rl" x="1491" y="2456" textLength="151" lengthAdjust="spacingAndGlyphs">服务可用的情况下可伪造白银票据</text>
</g>
</svg>
